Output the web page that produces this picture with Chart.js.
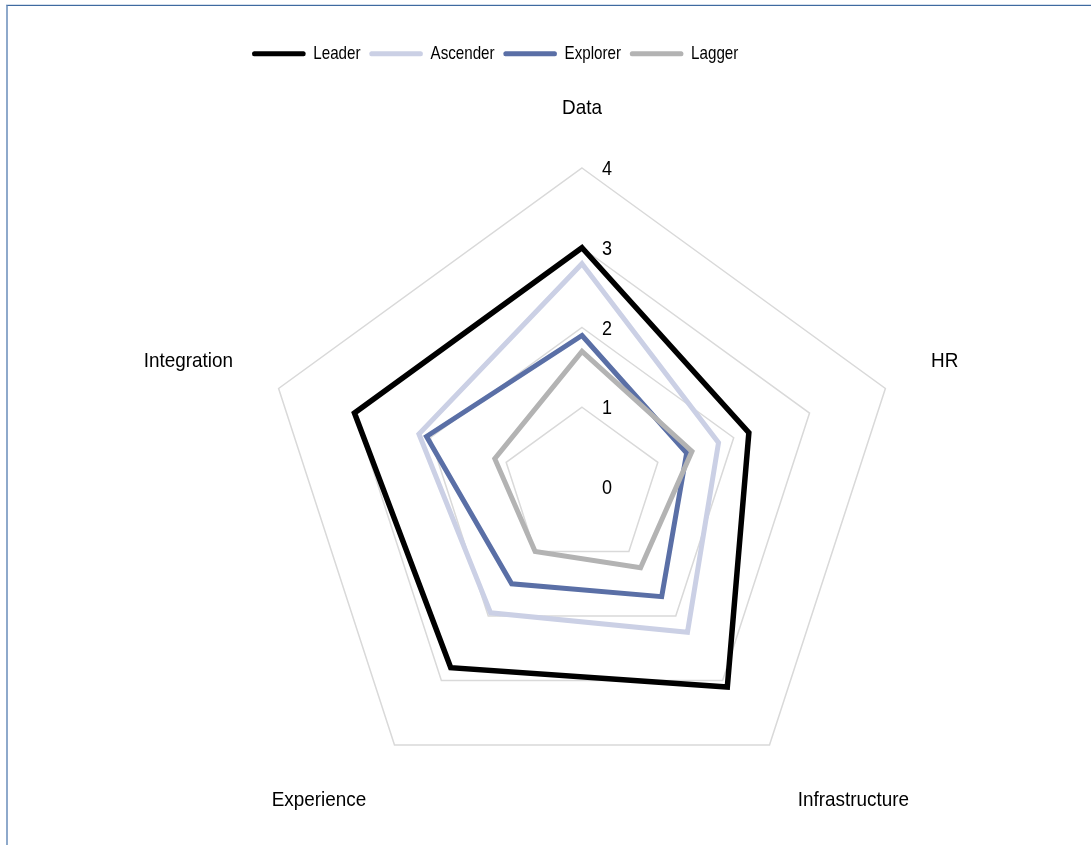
<!DOCTYPE html>
<html>
<head>
<meta charset="utf-8">
<script src="https://cdn.jsdelivr.net/npm/chart.js@4/dist/chart.umd.min.js"></script>
<style>
  html, body { margin: 0; padding: 0; background: #ffffff; }
  #wrap { position: relative; width: 1091px; height: 845px; overflow: hidden; }
  #frame { position: absolute; left: 6px; top: 4px; width: 1200px; height: 900px;
           border-top: 1px solid #d3deeb; box-sizing: border-box; }
  #frame2 { position: absolute; left: 6px; top: 5px; width: 1200px; height: 900px;
           border-top: 1.5px solid #3f6aa0; border-left: 2px solid #8ea9cb; box-sizing: border-box; }
  canvas { position: absolute; left: 0; top: 0; }
</style>
</head>
<body>
<div id="wrap">
  <div id="frame"></div>
  <div id="frame2"></div>
  <canvas id="c" width="1091" height="845"></canvas>
</div>
<script>
const categories = ['Data', 'HR', 'Infrastructure', 'Experience', 'Integration'];
const seriesNames = ['Leader', 'Ascender', 'Explorer', 'Lagger'];
const leader   = [3.0, 2.2, 3.1, 2.8, 3.0];
const ascender = [2.8, 1.8, 2.25, 1.95, 2.15];
const explorer = [1.9, 1.38, 1.7, 1.5, 2.05];
const lagger   = [1.7, 1.45, 1.25, 1.0, 1.15];
const tickValues = [0, 1, 2, 3, 4];

const colors = ['#000000', '#cbd0e5', '#5a6fa6', '#b3b3b3'];
const widths = [5.5, 5, 5, 5];
const FONT = '"Liberation Sans Narrow", "Arial Narrow", "Liberation Sans", Arial, sans-serif';
const NARROW = 0.82;      // horizontal condensing of legend text
const LABEL_NARROW = 0.9; // horizontal condensing of axis labels
const PAD_TOP = 34;
const CHART_TOP = 168;
const LEGEND_X = 252;

const seriesData = [leader, ascender, explorer, lagger];
const datasets = seriesData.map((d, i) => ({
  label: seriesNames[i],
  data: d,
  borderColor: colors[i],
  backgroundColor: colors[i],
  borderWidth: widths[i],
  borderJoinStyle: 'miter',
  fill: false,
  pointRadius: 0,
  pointHoverRadius: 0,
  order: seriesData.length - i
}));

const legendTweak = {
  id: 'legendTweak',
  beforeInit(chart) {
    const lg = chart.legend;
    const origFit = lg.fit;
    lg.fit = function () {
      origFit.call(this);
      this.height = CHART_TOP - PAD_TOP;
    };
    const origDraw = lg.draw;
    lg.draw = function () {
      const ctx = this.ctx;
      const x0 = this.left + this.options.labels.padding;
      ctx.save();
      ctx.translate(LEGEND_X, 0);
      ctx.scale(NARROW, 1);
      ctx.translate(-x0, 0);
      origDraw.call(this);
      ctx.restore();
    };
  }
};

function drawNarrow(ctx, text, x, y, align, k) {
  ctx.save();
  ctx.translate(x, y);
  ctx.scale(k, 1);
  ctx.textAlign = align;
  ctx.fillText(text, 0, 0);
  ctx.restore();
}

const labelsPlugin = {
  id: 'customLabels',
  afterDatasetsDraw(chart) {
    const s = chart.scales.r;
    const ctx = chart.ctx;
    ctx.save();
    ctx.fillStyle = '#000000';
    ctx.textBaseline = 'middle';
    // tick labels
    ctx.font = '20px ' + FONT;
    tickValues.forEach(v => {
      const d = s.getDistanceFromCenterForValue(v);
      drawNarrow(ctx, String(v), s.xCenter + 20, s.yCenter - d + 1.5, 'left', LABEL_NARROW);
    });
    // point labels
    ctx.font = '21px ' + FONT;
    categories.forEach((lab, i) => {
      const p = s.getPointPosition(i, s.drawingArea + 48);
      let align = 'center';
      if (p.x > s.xCenter + 5) align = 'left';
      else if (p.x < s.xCenter - 5) align = 'right';
      const dy = p.y < s.yCenter ? -12 : 16;
      drawNarrow(ctx, lab, p.x, p.y + dy, align, LABEL_NARROW);
    });
    ctx.restore();
  }
};

new Chart(document.getElementById('c'), {
  type: 'radar',
  data: { labels: categories, datasets },
  options: {
    responsive: false,
    animation: false,
    layout: { padding: { left: 245, right: 172, top: PAD_TOP, bottom: 39 } },
    plugins: {
      tooltip: { enabled: false },
      legend: {
        position: 'top',
        align: 'start',
        sort: (a, b) => a.datasetIndex - b.datasetIndex,
        labels: {
          boxWidth: 65.5,
          boxHeight: 5,
          padding: 10.6,
          useBorderRadius: true,
          borderRadius: 2.5,
          color: '#000000',
          font: { family: FONT, size: 18.5 },
          generateLabels(chart) {
            return chart.data.datasets.map((ds, i) => ({
              text: ds.label,
              fillStyle: ds.borderColor,
              strokeStyle: ds.borderColor,
              lineWidth: 0,
              hidden: false,
              datasetIndex: i,
              borderRadius: 2.5
            }));
          }
        }
      }
    },
    scales: {
      r: {
        min: 0,
        max: 4,
        beginAtZero: true,
        ticks: { stepSize: 1, display: false },
        grid: { color: '#d9d9d9', lineWidth: 1.5 },
        angleLines: { display: false },
        pointLabels: { display: false }
      }
    }
  },
  plugins: [legendTweak, labelsPlugin]
});
</script>
</body>
</html>
